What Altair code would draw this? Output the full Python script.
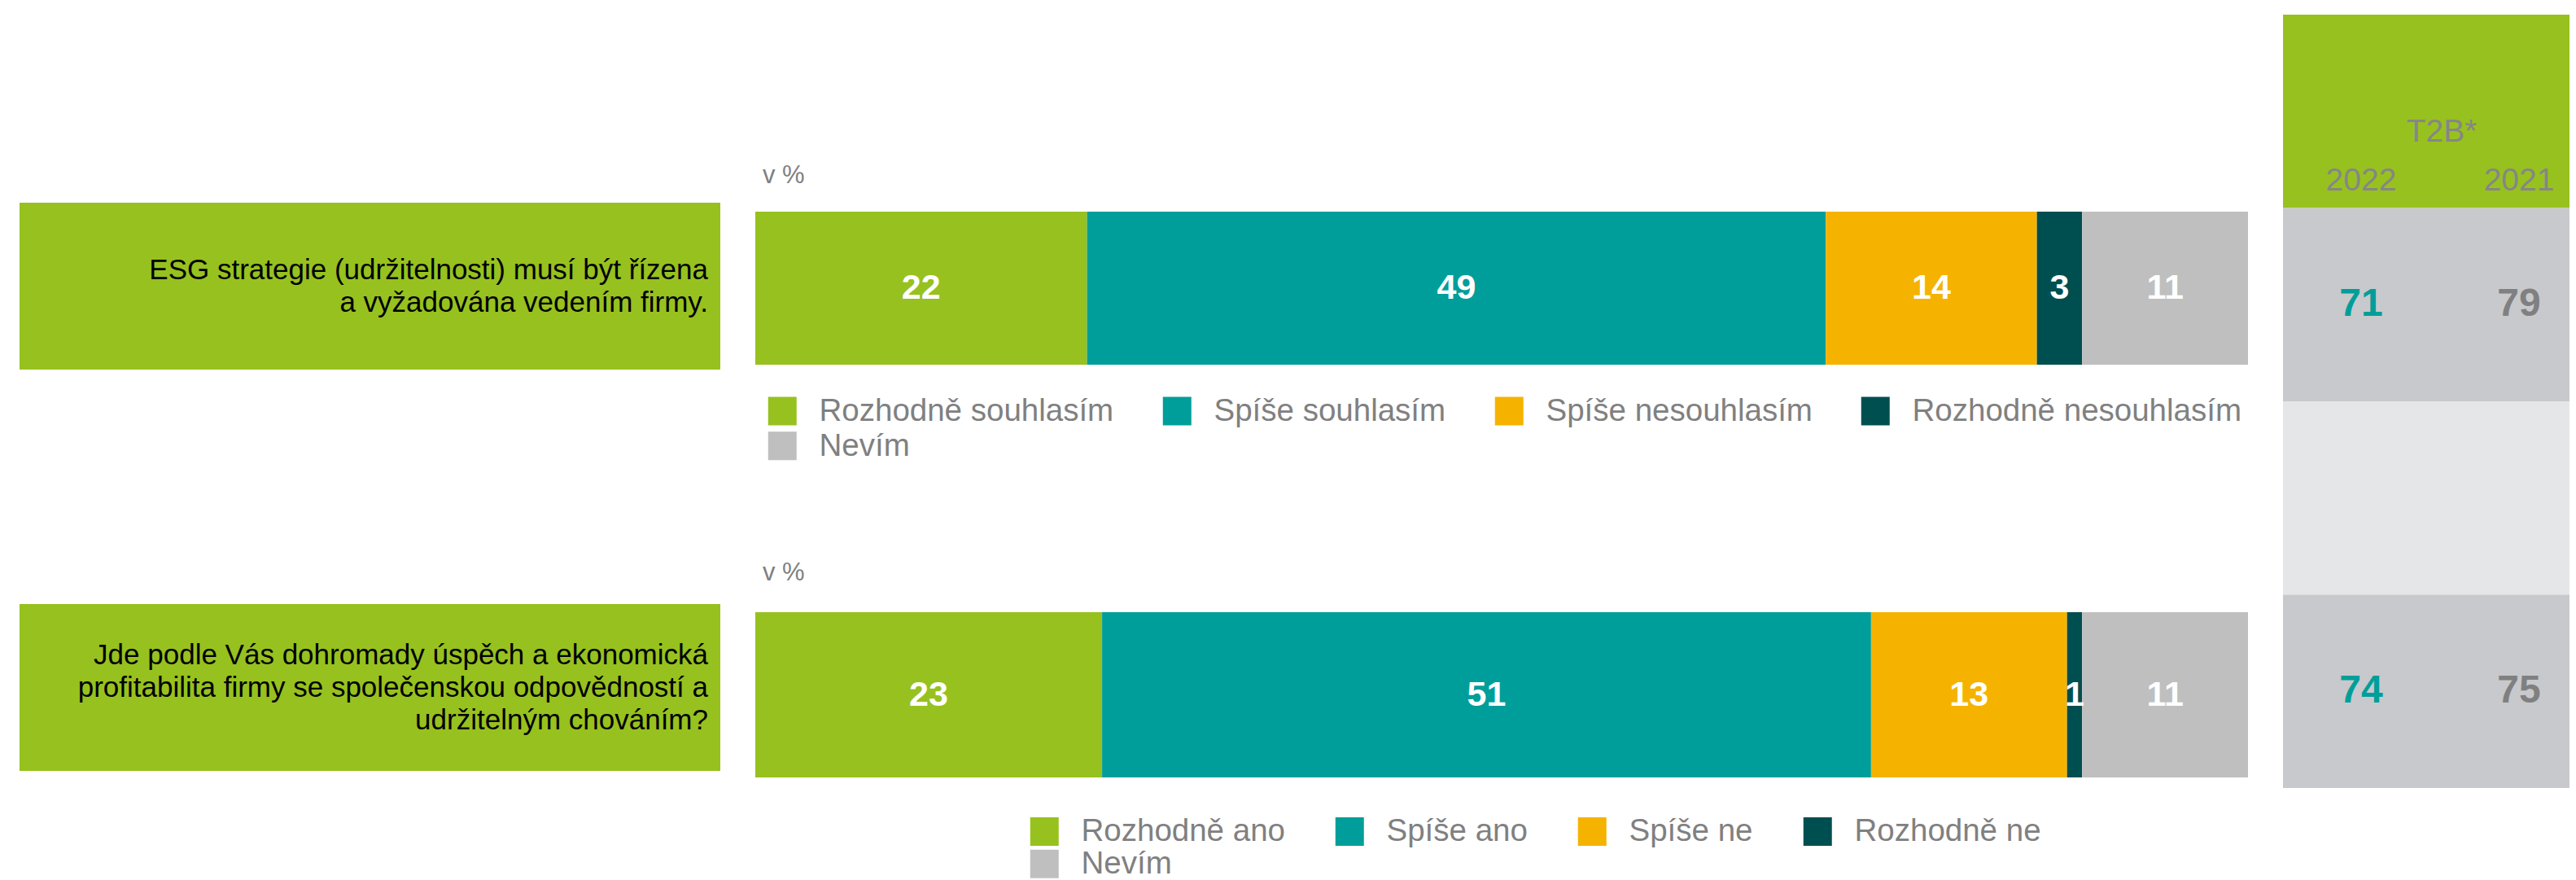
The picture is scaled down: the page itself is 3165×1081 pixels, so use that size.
import altair as alt
import pandas as pd

# ---------------- data ----------------
questions = ["q1", "q2"]
question_texts = [
    "ESG strategie (udržitelnosti) musí být řízena\na vyžadována vedením firmy.",
    "Jde podle Vás dohromady úspěch a ekonomická\nprofitabilita firmy se společenskou odpovědností a\nudržitelným chováním?",
]
cats_q1 = ["Rozhodně souhlasím", "Spíše souhlasím", "Spíše nesouhlasím", "Rozhodně nesouhlasím", "Nevím"]
vals_q1 = [22, 49, 14, 3, 11]
cats_q2 = ["Rozhodně ano", "Spíše ano", "Spíše ne", "Rozhodně ne", "Nevím"]
vals_q2 = [23, 51, 13, 1, 11]
unit_label = "v %"
t2b_title = "T2B*"
t2b_years = ["2022", "2021"]
t2b_q1 = [71, 79]
t2b_q2 = [74, 75]
table_rows = ["header", "q1", "gap", "q2"]

# ---------------- style ----------------
GREEN = "#97C11F"
TEAL = "#009E9A"
ORANGE = "#F5B300"
DARK = "#004F50"
GREY = "#BFBFBF"
segment_colors = [GREEN, TEAL, ORANGE, DARK, GREY]
PANEL_GREY = "#C8C9CC"
PANEL_LIGHT = "#E5E6E8"
TXT_GREY = "#808080"
HDR_GREY = "#868686"
FONT = "Liberation Sans"
H = 1065
LINE_H = 40

# ---------------- question boxes ----------------
box_df = pd.DataFrame({"qid": questions, "text": question_texts, "full": [1, 1]})
box_y = alt.Scale(type="band", domain=questions, paddingInner=0.5842,
                  paddingOuter=0.3722, align=0.6567)
box_x = alt.Scale(domain=[0, 1], nice=False)
box_bg = alt.Chart(box_df).mark_bar(color=GREEN).encode(
    x=alt.X("full:Q", scale=box_x, axis=None),
    y=alt.Y("qid:N", scale=box_y, axis=None),
)
box_layers = [box_bg]
for qid, qtext in zip(questions, question_texts):
    n_lines = qtext.count("\n") + 1
    box_layers.append(
        alt.Chart(box_df).transform_filter(alt.datum.qid == qid).mark_text(
            align="right", baseline="middle", dx=-15,
            dy=-(n_lines - 1) * LINE_H / 2, fontSize=35, font=FONT,
            color="#000000", lineBreak="\n", lineHeight=LINE_H,
        ).encode(
            x=alt.X("full:Q", scale=box_x, axis=None),
            y=alt.Y("qid:N", scale=box_y, axis=None),
            text="text:N",
        )
    )
boxes = alt.layer(*box_layers).properties(width=861, height=H)

# ---------------- stacked bars ----------------
bar_x = alt.Scale(domain=[0, 1], nice=False)
bar_y = alt.Scale(type="band", domain=questions, paddingInner=0.6,
                  paddingOuter=0.36607, align=0.67296)


def bar_group(qid, cats, vals, bar_h, unit_dy, lx, ly, colpad, rowpad):
    df = pd.DataFrame({"qid": qid, "cat": cats, "val": vals,
                       "order": list(range(len(cats)))})
    base = alt.Chart(df).transform_stack(
        stack="val", groupby=["qid"], as_=["x0", "x1"], offset="normalize",
        sort=[alt.SortField(field="order", order="ascending")],
    ).transform_calculate(mid="(datum.x0 + datum.x1) / 2")
    bars = base.mark_bar(height=bar_h).encode(
        x=alt.X("x0:Q", scale=bar_x, axis=None),
        x2="x1:Q",
        y=alt.Y("qid:N", scale=bar_y, axis=None),
        color=alt.Color(
            "cat:N",
            scale=alt.Scale(domain=cats, range=segment_colors),
            legend=alt.Legend(
                title=None, orient="none", legendX=lx, legendY=ly,
                direction="horizontal", columns=4, symbolType="square",
                symbolSize=1225, symbolStrokeWidth=0, symbolOpacity=1,
                labelFontSize=38.5, labelFont=FONT, labelColor=TXT_GREY,
                labelOffset=26, labelLimit=1000, columnPadding=colpad,
                rowPadding=rowpad, padding=0, offset=0,
            ),
        ),
    )
    labels = base.mark_text(
        font=FONT, fontSize=43, fontWeight="bold", color="#FFFFFF",
        baseline="middle", align="center",
    ).encode(
        x=alt.X("mid:Q", scale=bar_x, axis=None),
        y=alt.Y("qid:N", scale=bar_y, axis=None),
        text="val:Q",
    )
    unit_df = pd.DataFrame({"qid": [qid], "zero": [0], "label": [unit_label]})
    unit = alt.Chart(unit_df).mark_text(
        align="left", baseline="alphabetic", dx=9, dy=unit_dy,
        font=FONT, fontSize=31, color=TXT_GREY,
    ).encode(
        x=alt.X("zero:Q", scale=bar_x, axis=None),
        y=alt.Y("qid:N", scale=bar_y, axis=None),
        text="label:N",
    )
    return [bars, labels, unit]


layers = bar_group("q1", cats_q1, vals_q1, 188, -129, 14, 477.5, 58, 4) + \
    bar_group("q2", cats_q2, vals_q2, 203, -140.5, 336, 994, 60, 1)
bars_chart = alt.layer(*layers).resolve_scale(color="independent").properties(
    width=1834, height=H)

# ---------------- T2B table ----------------
tbl_y = alt.Scale(type="band", domain=table_rows, paddingInner=0,
                  paddingOuter=0.24211, align=0.08696)
tbl_xq = alt.Scale(domain=[0, 1], nice=False)
tbl_xp = alt.Scale(type="point", domain=t2b_years, padding=0.4072, align=0.6076)

bg_df = pd.DataFrame({"row": table_rows,
                      "fill": [GREEN, PANEL_GREY, PANEL_LIGHT, PANEL_GREY],
                      "full": 1})
tbl_bg = alt.Chart(bg_df).mark_bar().encode(
    x=alt.X("full:Q", scale=tbl_xq, axis=None),
    y=alt.Y("row:N", scale=tbl_y, axis=None),
    color=alt.Color("fill:N", scale=None),
)
yr_df = pd.DataFrame({"year": t2b_years, "row": "header"})
tbl_years = alt.Chart(yr_df).mark_text(
    baseline="alphabetic", align="center", dy=97.5, font=FONT, fontSize=39,
    color=HDR_GREY,
).encode(
    x=alt.X("year:N", scale=tbl_xp, axis=None),
    y=alt.Y("row:N", scale=tbl_y, axis=None),
    text="year:N",
)
t2b_df = pd.DataFrame({"year": [t2b_years[0]], "row": ["header"], "label": [t2b_title]})
tbl_t2b = alt.Chart(t2b_df).mark_text(
    baseline="alphabetic", align="center", dx=99, dy=37.5, font=FONT,
    fontSize=39, color=HDR_GREY,
).encode(
    x=alt.X("year:N", scale=tbl_xp, axis=None),
    y=alt.Y("row:N", scale=tbl_y, axis=None),
    text="label:N",
)
val_df = pd.DataFrame({
    "year": t2b_years + t2b_years,
    "row": ["q1"] * len(t2b_years) + ["q2"] * len(t2b_years),
    "value": t2b_q1 + t2b_q2,
})
tbl_vals = alt.Chart(val_df).mark_text(
    baseline="middle", align="center", font=FONT, fontSize=48,
    fontWeight="bold",
).encode(
    x=alt.X("year:N", scale=tbl_xp, axis=None),
    y=alt.Y("row:N", scale=tbl_y, axis=None),
    text="value:Q",
    color=alt.Color("year:N", scale=alt.Scale(domain=t2b_years, range=[TEAL, TXT_GREY]),
                    legend=None),
)
table = alt.layer(tbl_bg, tbl_years, tbl_t2b, tbl_vals).resolve_scale(
    x="independent", color="independent").properties(width=352, height=H)

chart = alt.hconcat(boxes, bars_chart, table, spacing=43).properties(
    padding={"left": 16, "top": 0, "right": 0, "bottom": 0}
).configure(font=FONT).configure_view(stroke=None, strokeWidth=0)

chart.save("out.html", embed_options={"renderer": "svg", "actions": False})
